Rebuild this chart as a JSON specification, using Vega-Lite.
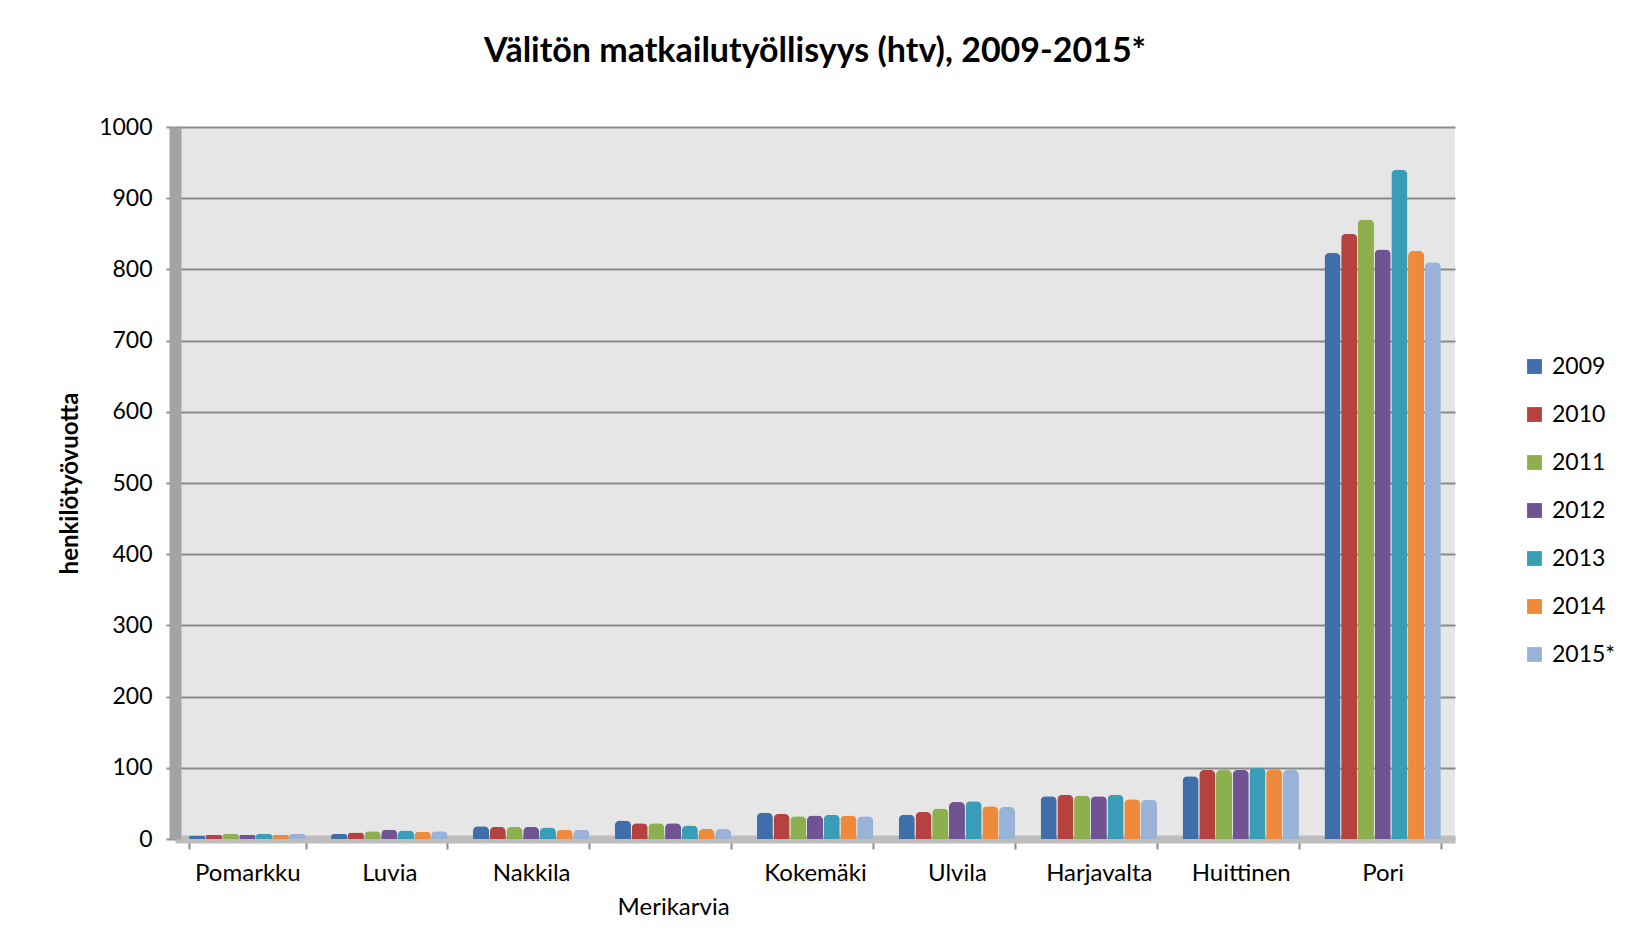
{
  "$schema": "https://vega.github.io/schema/vega-lite/v6.json",
  "autosize": "none",
  "width": 1280,
  "height": 712,
  "padding": {"left": 175, "top": 127, "right": 180, "bottom": 102},
  "background": "white",
  "title": {
    "text": "Välitön matkailutyöllisyys (htv), 2009-2015*",
    "font": "Lato",
    "fontSize": 34,
    "fontWeight": "bold",
    "color": "black",
    "offset": 47,
    "anchor": "middle"
  },
  "data": {
    "values": [
      {"kunta": "Pomarkku", "vuosi": "2009", "htv": 5},
      {"kunta": "Pomarkku", "vuosi": "2010", "htv": 6},
      {"kunta": "Pomarkku", "vuosi": "2011", "htv": 7},
      {"kunta": "Pomarkku", "vuosi": "2012", "htv": 6},
      {"kunta": "Pomarkku", "vuosi": "2013", "htv": 7},
      {"kunta": "Pomarkku", "vuosi": "2014", "htv": 6},
      {"kunta": "Pomarkku", "vuosi": "2015*", "htv": 7},
      {"kunta": "Luvia", "vuosi": "2009", "htv": 7},
      {"kunta": "Luvia", "vuosi": "2010", "htv": 9},
      {"kunta": "Luvia", "vuosi": "2011", "htv": 11},
      {"kunta": "Luvia", "vuosi": "2012", "htv": 13},
      {"kunta": "Luvia", "vuosi": "2013", "htv": 12},
      {"kunta": "Luvia", "vuosi": "2014", "htv": 10},
      {"kunta": "Luvia", "vuosi": "2015*", "htv": 11},
      {"kunta": "Nakkila", "vuosi": "2009", "htv": 18},
      {"kunta": "Nakkila", "vuosi": "2010", "htv": 17},
      {"kunta": "Nakkila", "vuosi": "2011", "htv": 17},
      {"kunta": "Nakkila", "vuosi": "2012", "htv": 17},
      {"kunta": "Nakkila", "vuosi": "2013", "htv": 16},
      {"kunta": "Nakkila", "vuosi": "2014", "htv": 13},
      {"kunta": "Nakkila", "vuosi": "2015*", "htv": 13},
      {"kunta": "Merikarvia", "vuosi": "2009", "htv": 26},
      {"kunta": "Merikarvia", "vuosi": "2010", "htv": 22},
      {"kunta": "Merikarvia", "vuosi": "2011", "htv": 22},
      {"kunta": "Merikarvia", "vuosi": "2012", "htv": 22},
      {"kunta": "Merikarvia", "vuosi": "2013", "htv": 19},
      {"kunta": "Merikarvia", "vuosi": "2014", "htv": 14},
      {"kunta": "Merikarvia", "vuosi": "2015*", "htv": 14},
      {"kunta": "Kokemäki", "vuosi": "2009", "htv": 37},
      {"kunta": "Kokemäki", "vuosi": "2010", "htv": 35},
      {"kunta": "Kokemäki", "vuosi": "2011", "htv": 32},
      {"kunta": "Kokemäki", "vuosi": "2012", "htv": 33},
      {"kunta": "Kokemäki", "vuosi": "2013", "htv": 34},
      {"kunta": "Kokemäki", "vuosi": "2014", "htv": 33},
      {"kunta": "Kokemäki", "vuosi": "2015*", "htv": 32},
      {"kunta": "Ulvila", "vuosi": "2009", "htv": 34},
      {"kunta": "Ulvila", "vuosi": "2010", "htv": 38},
      {"kunta": "Ulvila", "vuosi": "2011", "htv": 43},
      {"kunta": "Ulvila", "vuosi": "2012", "htv": 52},
      {"kunta": "Ulvila", "vuosi": "2013", "htv": 53},
      {"kunta": "Ulvila", "vuosi": "2014", "htv": 46},
      {"kunta": "Ulvila", "vuosi": "2015*", "htv": 45},
      {"kunta": "Harjavalta", "vuosi": "2009", "htv": 60},
      {"kunta": "Harjavalta", "vuosi": "2010", "htv": 62},
      {"kunta": "Harjavalta", "vuosi": "2011", "htv": 61},
      {"kunta": "Harjavalta", "vuosi": "2012", "htv": 60},
      {"kunta": "Harjavalta", "vuosi": "2013", "htv": 62},
      {"kunta": "Harjavalta", "vuosi": "2014", "htv": 56},
      {"kunta": "Harjavalta", "vuosi": "2015*", "htv": 55},
      {"kunta": "Huittinen", "vuosi": "2009", "htv": 88},
      {"kunta": "Huittinen", "vuosi": "2010", "htv": 97},
      {"kunta": "Huittinen", "vuosi": "2011", "htv": 97},
      {"kunta": "Huittinen", "vuosi": "2012", "htv": 97},
      {"kunta": "Huittinen", "vuosi": "2013", "htv": 100},
      {"kunta": "Huittinen", "vuosi": "2014", "htv": 98},
      {"kunta": "Huittinen", "vuosi": "2015*", "htv": 97},
      {"kunta": "Pori", "vuosi": "2009", "htv": 823},
      {"kunta": "Pori", "vuosi": "2010", "htv": 850},
      {"kunta": "Pori", "vuosi": "2011", "htv": 870},
      {"kunta": "Pori", "vuosi": "2012", "htv": 828},
      {"kunta": "Pori", "vuosi": "2013", "htv": 940},
      {"kunta": "Pori", "vuosi": "2014", "htv": 826},
      {"kunta": "Pori", "vuosi": "2015*", "htv": 810}
    ]
  },
  "mark": {"type": "bar", "cornerRadiusTopLeft": 5, "cornerRadiusTopRight": 5},
  "encoding": {
    "x": {
      "field": "kunta",
      "type": "nominal",
      "sort": null,
      "scale": {"paddingInner": 0.18, "paddingOuter": 0.1},
      "axis": {
        "title": null,
        "labelAngle": 0,
        "labelFont": "Lato",
        "labelFontSize": 24,
        "labelColor": "black",
        "labelPadding": 12,
        "labelLineHeight": 34,
        "labelBaseline": "top",
        "labelExpr": "datum.label == 'Merikarvia' ? ['', 'Merikarvia'] : datum.label",
        "tickBand": "extent",
        "tickSize": 10,
        "tickColor": "#8a8a8a",
        "tickWidth": 2,
        "domainColor": "#bdbdbd",
        "domainWidth": 8,
        "grid": false
      }
    },
    "xOffset": {"field": "vuosi", "type": "nominal", "scale": {"paddingInner": 0.04}},
    "y": {
      "field": "htv",
      "type": "quantitative",
      "scale": {"domain": [0, 1000]},
      "axis": {
        "title": "henkilötyövuotta",
        "titleFont": "Lato",
        "titleFontSize": 24,
        "titleFontWeight": "bold",
        "titleColor": "black",
        "titlePadding": 16,
        "values": [0, 100, 200, 300, 400, 500, 600, 700, 800, 900, 1000],
        "format": "d",
        "labelFont": "Lato",
        "labelFontSize": 23,
        "labelColor": "black",
        "labelPadding": 14,
        "tickSize": 9,
        "tickColor": "#8a8a8a",
        "tickWidth": 2,
        "domainColor": "#a3a3a3",
        "domainWidth": 12,
        "grid": true,
        "gridColor": "#8a8a8a",
        "gridWidth": 2
      }
    },
    "color": {
      "field": "vuosi",
      "type": "nominal",
      "scale": {
        "domain": ["2009", "2010", "2011", "2012", "2013", "2014", "2015*"],
        "range": ["#3F6FAA", "#B5423F", "#8DAF4E", "#6F5393", "#3A9DB8", "#EE8A3A", "#98B2D8"]
      },
      "legend": {
        "title": null,
        "orient": "none",
        "legendX": 1348,
        "legendY": 228,
        "symbolType": "square",
        "symbolSize": 220,
        "symbolStrokeWidth": 0,
        "labelFont": "Lato",
        "labelFontSize": 23,
        "labelColor": "black",
        "labelOffset": 6,
        "rowPadding": 24
      }
    }
  },
  "config": {
    "view": {"fill": "#e6e6e6", "stroke": null}
  }
}
